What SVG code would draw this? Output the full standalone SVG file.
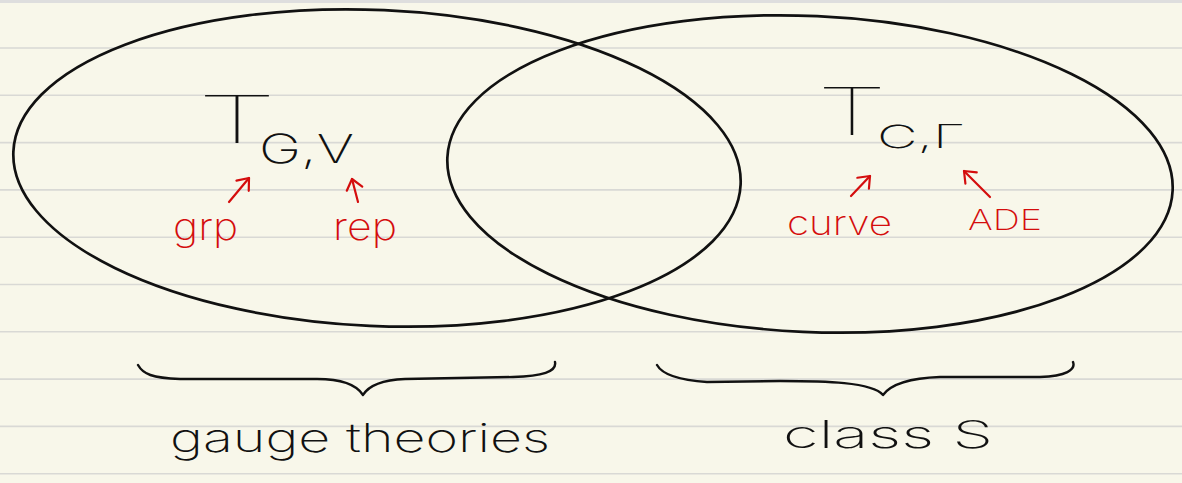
<svg xmlns="http://www.w3.org/2000/svg" width="1182" height="483" viewBox="0 0 1182 483">
  <defs>
    <style>
      .rule { stroke: #d9d9d5; stroke-width: 1.6; }
      .set { fill: none; stroke: #111; stroke-width: 2.7; }
      .brace { fill: none; stroke: #111; stroke-width: 2.4; stroke-linecap: round; stroke-linejoin: round; }
      .ink { fill: #111; font-family: Inter, "Open Sans", "Liberation Sans", sans-serif; font-weight: 200; }
      .big { font-weight: 100; }
      .red { fill: #d40d0d; font-family: Inter, "Open Sans", "Liberation Sans", sans-serif; font-weight: 200; }
      .arrow { fill: none; stroke: #d40d0d; stroke-width: 2.2; stroke-linecap: round; marker-end: url(#head); }
    </style>
    <marker id="head" markerUnits="userSpaceOnUse" markerWidth="24" markerHeight="24" refX="0" refY="0" viewBox="-12 -12 24 24" orient="auto" overflow="visible">
      <path d="M-10,-8 L0,0 L-10,8" fill="none" stroke="#d40d0d" stroke-width="2.2" stroke-linecap="round" stroke-linejoin="round"/>
    </marker>
  </defs>

  <rect x="0" y="0" width="1182" height="483" fill="#f8f7ea"/>
  <rect x="0" y="0" width="1182" height="3" fill="#dedede"/>
  <g id="ruling">
    <line class="rule" x1="0" y1="48" x2="1182" y2="48"/>
    <line class="rule" x1="0" y1="95.3" x2="1182" y2="95.3"/>
    <line class="rule" x1="0" y1="142.6" x2="1182" y2="142.6"/>
    <line class="rule" x1="0" y1="189.9" x2="1182" y2="189.9"/>
    <line class="rule" x1="0" y1="237.2" x2="1182" y2="237.2"/>
    <line class="rule" x1="0" y1="284.5" x2="1182" y2="284.5"/>
    <line class="rule" x1="0" y1="331.8" x2="1182" y2="331.8"/>
    <line class="rule" x1="0" y1="379.1" x2="1182" y2="379.1"/>
    <line class="rule" x1="0" y1="426.4" x2="1182" y2="426.4"/>
    <line class="rule" x1="0" y1="473.7" x2="1182" y2="473.7"/>
  </g>

  <g id="gauge-theories-set">
    <ellipse class="set" cx="377" cy="168" rx="364" ry="158" transform="rotate(2.6 377 168)"/>
    <text class="ink big" x="197" y="143" font-size="66" textLength="80" lengthAdjust="spacingAndGlyphs">T</text>
    <text class="ink" x="259" y="163" font-size="40" textLength="95" lengthAdjust="spacingAndGlyphs">G,V</text>
    <text class="red" x="173" y="240" font-size="38" textLength="65" lengthAdjust="spacingAndGlyphs">grp</text>
    <text class="red" x="333" y="240" font-size="38" textLength="64" lengthAdjust="spacingAndGlyphs">rep</text>
  </g>

  <g id="class-s-set">
    <ellipse class="set" cx="810" cy="174" rx="363" ry="158" transform="rotate(2.6 810 174)"/>
    <text class="ink big" x="817" y="135" font-size="66" textLength="70" lengthAdjust="spacingAndGlyphs">T</text>
    <text class="ink" x="877" y="148" font-size="32" textLength="88" lengthAdjust="spacingAndGlyphs">C,Γ</text>
    <text class="red" x="787" y="235" font-size="34" textLength="105" lengthAdjust="spacingAndGlyphs">curve</text>
    <text class="red" x="968" y="230" font-size="28" textLength="74" lengthAdjust="spacingAndGlyphs">ADE</text>
  </g>

  <g id="connectors">
    <line class="arrow" x1="229" y1="202" x2="249" y2="178"/>
    <line class="arrow" x1="358" y1="202" x2="352" y2="179"/>
    <line class="arrow" x1="851" y1="196" x2="870" y2="176"/>
    <line class="arrow" x1="990" y1="197" x2="964" y2="171"/>
  </g>

  <g id="brace-gauge">
    <path class="brace" d="M138,365 C143,374 152,378 180,379 L317,379 C340,379 356,384 363,395 C369,385 382,380 405,379 L513,377 C542,376 557,372 555,362"/>
    <text class="ink" x="170" y="452" font-size="40" textLength="380" lengthAdjust="spacingAndGlyphs">gauge theories</text>
  </g>

  <g id="brace-class-s">
    <path class="brace" d="M657,365 C662,374 677,380 707,382 L780,381 C825,381 872,382 883,395 C891,384 912,378 940,377 L1040,377 C1066,376 1076,370 1073,362"/>
    <text class="ink" x="783" y="448" font-size="38" textLength="210" lengthAdjust="spacingAndGlyphs">class S</text>
  </g>
</svg>
